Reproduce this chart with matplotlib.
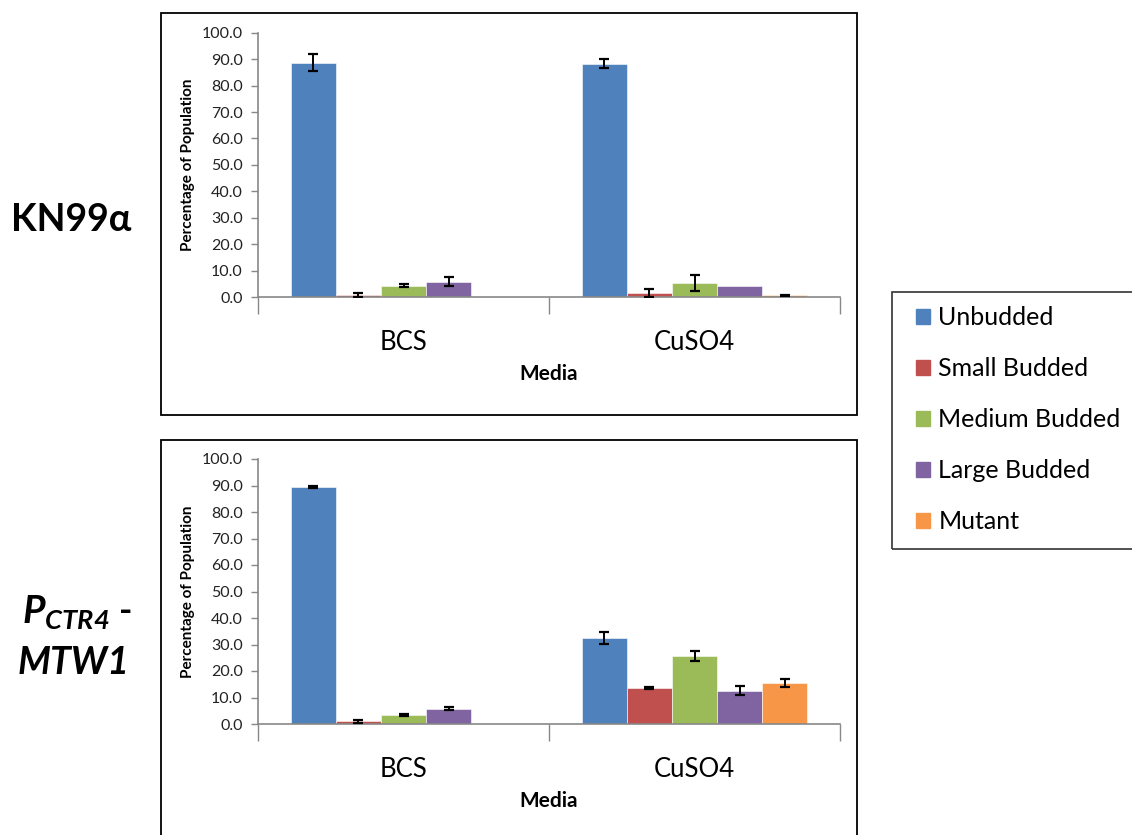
import numpy as np
import matplotlib.pyplot as plt
import matplotlib.patches as mpatches

# ─── Data ────────────────────────────────────────────────────────────────────
media = ["BCS", "CuSO4"]
classes = ["Unbudded", "Small Budded", "Medium Budded", "Large Budded", "Mutant"]

# KN99α  (rows = class, cols = media)
kn99_mean = [[88.7, 88.2],
             [0.7, 1.4],
             [4.2, 5.2],
             [5.8, 4.1],
             [0.0, 0.6]]
kn99_err = [[3.1, 1.7],
            [0.7, 1.5],
            [0.6, 3.0],
            [1.6, np.nan],
            [np.nan, 0.15]]

# PCTR4-MTW1
mtw1_mean = [[89.5, 32.5],
             [1.0, 13.6],
             [3.4, 25.7],
             [5.8, 12.6],
             [0.0, 15.6]]
mtw1_err = [[0.3, 2.2],
            [0.5, 0.3],
            [0.3, 2.0],
            [0.5, 1.8],
            [np.nan, 1.5]]

# ─── Style ───────────────────────────────────────────────────────────────────
COLORS = ["#4F81BD", "#C0504D", "#9BBB59", "#8064A2", "#F79646"]
AXIS = "#888888"
FONT = "Lato"
plt.rcParams["font.family"] = [FONT, "DejaVu Sans"]
plt.rcParams["mathtext.fontset"] = "custom"
plt.rcParams["mathtext.bfit"] = f"{FONT}:italic:bold"
plt.rcParams["mathtext.rm"] = FONT

W, H = 1132, 835
fig = plt.figure(figsize=(W / 100, H / 100), dpi=100, facecolor="white")


def fx(px):
    return px / W


def fy(py):
    return 1 - py / H


def draw_panel(ax, means, errs):
    x = np.arange(len(media))
    bw = 0.155
    n = len(classes)
    for i in range(n):
        xs = x + (i - (n - 1) / 2) * bw
        ax.bar(xs, means[i], width=bw, color=COLORS[i], edgecolor="white",
               linewidth=0.4, zorder=2)
        ax.errorbar(xs, means[i], yerr=errs[i], fmt="none", ecolor="black",
                    elinewidth=1.4, capsize=3.5, capthick=1.6, zorder=3)

    ax.set_xlim(-0.5, 1.5)
    ax.set_ylim(0, 100)
    ax.set_yticks(np.arange(0, 101, 10))
    ax.set_yticklabels([f"{v:.1f}" for v in range(0, 101, 10)],
                       fontsize=11.5, color="#222222")
    ax.tick_params(axis="y", length=5, width=1, color=AXIS, pad=6)

    ax.set_xticks([-0.5, 0.5, 1.5])
    ax.set_xticklabels([])
    ax.tick_params(axis="x", which="major", length=12, width=1, color=AXIS)
    ax.set_xticks(x, minor=True)
    ax.set_xticklabels(media, minor=True, fontsize=18.5)
    ax.tick_params(axis="x", which="minor", length=0, pad=24)

    for s in ("top", "right"):
        ax.spines[s].set_visible(False)
    for s in ("left", "bottom"):
        ax.spines[s].set_color(AXIS)
        ax.spines[s].set_linewidth(1.2)

    ax.set_ylabel("Percentage of Population", fontsize=11, fontweight="bold",
                  labelpad=5)
    ax.set_xlabel("Media", fontsize=15, fontweight="bold", labelpad=6)


# Panel frames
for top, bot in ((13, 415), (440, 860)):
    fig.patches.append(mpatches.Rectangle(
        (fx(161), fy(bot)), fx(857) - fx(161), fy(top) - fy(bot),
        transform=fig.transFigure, fill=False, edgecolor="black", lw=1.3))

ax1 = fig.add_axes([fx(258), fy(297), fx(840) - fx(258), fy(32.8) - fy(297)])
draw_panel(ax1, kn99_mean, kn99_err)

ax2 = fig.add_axes([fx(258), fy(724), fx(840) - fx(258), fy(459) - fy(724)])
draw_panel(ax2, mtw1_mean, mtw1_err)

# Strain labels
fig.text(fx(71), fy(220), "KN99α", fontsize=27, fontweight="bold",
         ha="center", va="center")
fig.text(fx(22), fy(624), r"$\mathbfit{P}_{\mathbfit{CTR4}}$",
         fontsize=28, ha="left", va="baseline")
fig.text(fx(119), fy(622), "-", fontsize=26, fontweight="bold",
         ha="left", va="baseline")
fig.text(fx(74), fy(662), "MTW1", fontsize=27, fontweight="bold",
         style="italic", ha="center", va="center")

# Legend (frame runs off the right edge)
fig.patches.append(mpatches.Rectangle(
    (fx(892), fy(549)), fx(1150) - fx(892), fy(292) - fy(549),
    transform=fig.transFigure, fill=False, edgecolor="#333333", lw=1.2))
handles = [mpatches.Patch(color=c, label=l) for c, l in zip(COLORS, classes)]
leg = fig.legend(handles=handles, loc="upper left",
                 bbox_to_anchor=(fx(916), fy(306)), frameon=False,
                 fontsize=18, handlelength=0.55, handleheight=0.55,
                 handletextpad=0.35, labelspacing=1.12, borderpad=0.0,
                 borderaxespad=0.0)

fig.savefig("out.png", dpi=100)
